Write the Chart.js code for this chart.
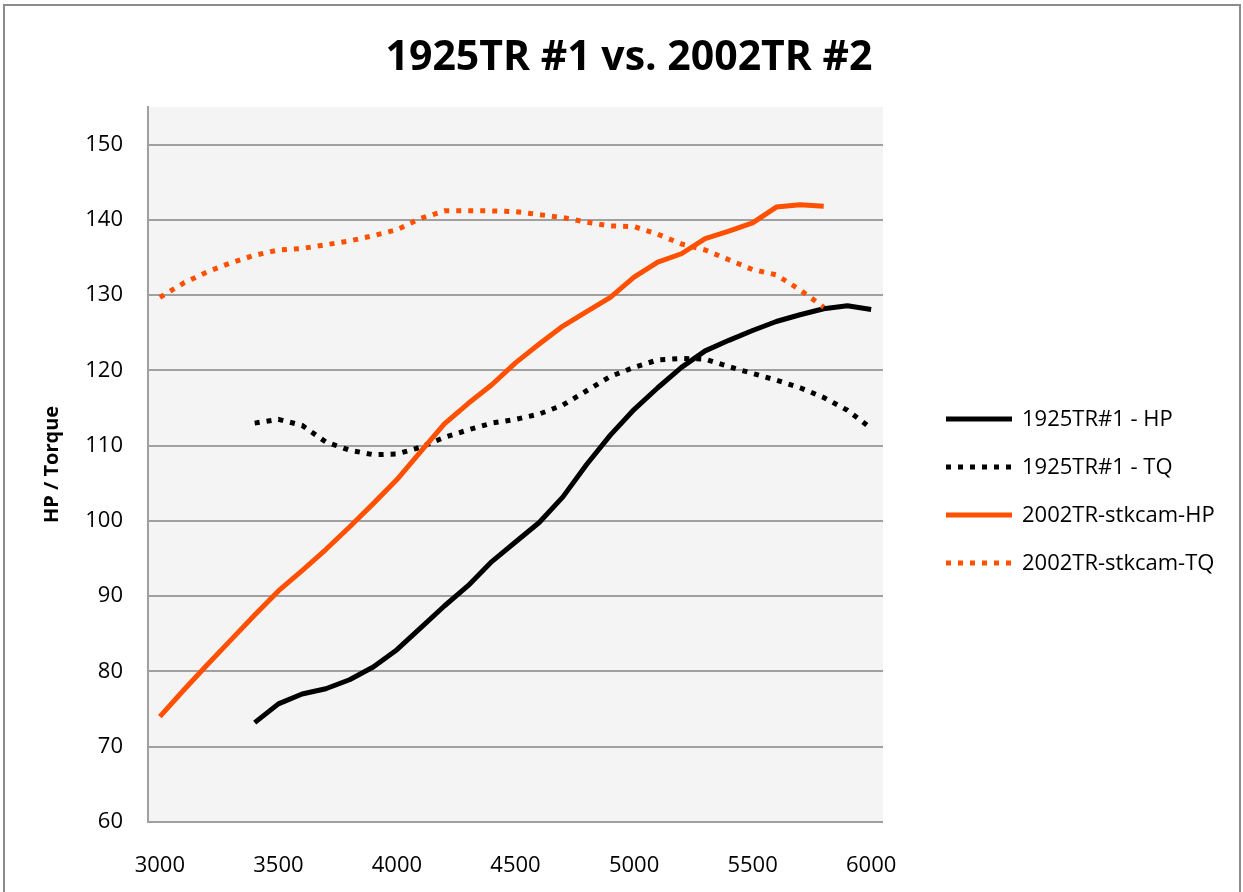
<!DOCTYPE html>
<html>
<head>
<meta charset="utf-8">
<script src="https://cdn.jsdelivr.net/npm/chart.js@4"></script>
<style>
  body { margin: 0; background: #fff; }
  #wrap { width: 1243px; height: 892px; }
</style>
</head>
<body>
<div id="wrap"><canvas id="dynoChart"></canvas></div>
<script>
// rpm categories (every 100 rpm), only every 500 gets a label
const rpm = [3000, 3100, 3200, 3300, 3400, 3500, 3600, 3700, 3800, 3900,
             4000, 4100, 4200, 4300, 4400, 4500, 4600, 4700, 4800, 4900,
             5000, 5100, 5200, 5300, 5400, 5500, 5600, 5700, 5800, 5900, 6000];

const hp1925 = [null, null, null, null, 73.2, 75.7, 77.0, 77.7, 78.9, 80.6,
                82.9, 85.8, 88.7, 91.4, 94.6, 97.2, 99.8, 103.2, 107.5, 111.4,
                114.8, 117.7, 120.4, 122.6, 124.0, 125.3, 126.5, 127.4, 128.2, 128.6, 128.1];
const tq1925 = [null, null, null, null, 113.0, 113.5, 112.7, 110.5, 109.4, 108.8,
                108.9, 109.8, 111.1, 112.1, 113.0, 113.5, 114.2, 115.4, 117.3, 119.2,
                120.4, 121.4, 121.6, 121.5, 120.5, 119.6, 118.7, 117.7, 116.4, 114.7, 112.3];
const hp2002 = [74.0, 77.5, 80.9, 84.2, 87.5, 90.7, 93.4, 96.2, 99.2, 102.3,
                105.5, 109.2, 112.9, 115.6, 118.1, 121.0, 123.5, 125.9, 127.8, 129.7,
                132.4, 134.4, 135.5, 137.5, 138.5, 139.6, 141.7, 142.0, 141.8, null, null];
const tq2002 = [129.7, 131.6, 133.1, 134.3, 135.3, 136.0, 136.2, 136.7, 137.2, 137.9,
                138.7, 140.2, 141.2, 141.2, 141.2, 141.1, 140.7, 140.3, 139.7, 139.2,
                139.1, 138.1, 136.8, 136.0, 134.7, 133.4, 132.7, 130.7, 128.4, null, null];

const seriesNames = ['1925TR#1 - HP', '1925TR#1 - TQ', '2002TR-stkcam-HP', '2002TR-stkcam-TQ'];
const chartTitle = '1925TR #1 vs. 2002TR #2';

const BLACK = '#000000';
const ORANGE = '#ff5000';
const DOTS = [5, 7];
const FONT = '"Open Sans", "Noto Sans", sans-serif';

// plot background, outer frame, title (centred on the whole chart) and the legend
const excelLook = {
  id: 'excelLook',
  beforeDraw(chart) {
    const { ctx, chartArea } = chart;
    ctx.save();
    ctx.fillStyle = '#f4f4f4';
    ctx.fillRect(chartArea.left, chartArea.top, chartArea.right - chartArea.left, chartArea.bottom - chartArea.top);
    ctx.strokeStyle = '#8c8c8c';
    ctx.lineWidth = 2;
    ctx.strokeRect(4, 5, chart.width - 7, chart.height + 20);
    ctx.restore();
  },
  afterDraw(chart) {
    const ctx = chart.ctx;
    ctx.save();
    ctx.fillStyle = '#000';
    ctx.font = 'bold 41px ' + FONT;
    ctx.textAlign = 'center';
    ctx.textBaseline = 'middle';
    ctx.fillText(chartTitle, 629, 58);

    ctx.font = '22px ' + FONT;
    ctx.textAlign = 'left';
    chart.data.datasets.forEach((ds, i) => {
      const y = 419 + i * 48;
      ctx.beginPath();
      ctx.setLineDash(ds.borderDash || []);
      ctx.lineCap = 'butt';
      ctx.lineWidth = ds.borderWidth;
      ctx.strokeStyle = ds.borderColor;
      ctx.moveTo(946, y);
      ctx.lineTo(1012, y);
      ctx.stroke();
      ctx.setLineDash([]);
      ctx.fillText(ds.label, 1022, y + 1);
    });
    ctx.restore();
  }
};

const ctx = document.getElementById('dynoChart').getContext('2d');
const dynoChart = new Chart(ctx, {
  type: 'line',
  data: {
    labels: rpm,
    datasets: [
      { label: seriesNames[0], data: hp1925, borderColor: BLACK, borderWidth: 5, order: 1 },
      { label: seriesNames[1], data: tq1925, borderColor: BLACK, borderWidth: 5, borderDash: DOTS, order: 1 },
      { label: seriesNames[2], data: hp2002, borderColor: ORANGE, borderWidth: 5, order: 0 },
      { label: seriesNames[3], data: tq2002, borderColor: ORANGE, borderWidth: 5, borderDash: DOTS, order: 0 }
    ]
  },
  options: {
    responsive: true,
    maintainAspectRatio: false,
    animation: false,
    elements: {
      point: { radius: 0, hoverRadius: 0 },
      line: { tension: 0, fill: false, borderCapStyle: 'butt', borderJoinStyle: 'round' }
    },
    layout: { padding: { left: 40, right: 360, top: 107, bottom: 0 } },
    plugins: {
      legend: { display: false },
      tooltip: { enabled: false },
      title: { display: false }
    },
    scales: {
      x: {
        type: 'category',
        offset: true,
        grid: { display: false, drawTicks: false },
        border: { display: false },
        ticks: {
          autoSkip: false,
          maxRotation: 0,
          padding: 31,
          color: '#000',
          font: { family: FONT, size: 22 },
          callback: function (value) {
            const r = this.getLabelForValue(value);
            return r % 500 === 0 ? String(r) : '';
          }
        },
        afterFit(scale) { scale.height = 70; }
      },
      y: {
        min: 60,
        max: 155,
        grid: { color: '#a0a0a0', lineWidth: 2, drawTicks: false },
        border: { display: true, color: '#a0a0a0', width: 2 },
        ticks: {
          stepSize: 10,
          includeBounds: false,
          padding: 25,
          color: '#000',
          font: { family: FONT, size: 22 }
        },
        title: {
          display: true,
          text: 'HP / Torque',
          color: '#000',
          padding: 0,
          font: { family: FONT, size: 20, weight: 'bold' }
        },
        afterFit(scale) { scale.width = 108; }
      }
    }
  },
  plugins: [excelLook]
});
</script>
</body>
</html>
